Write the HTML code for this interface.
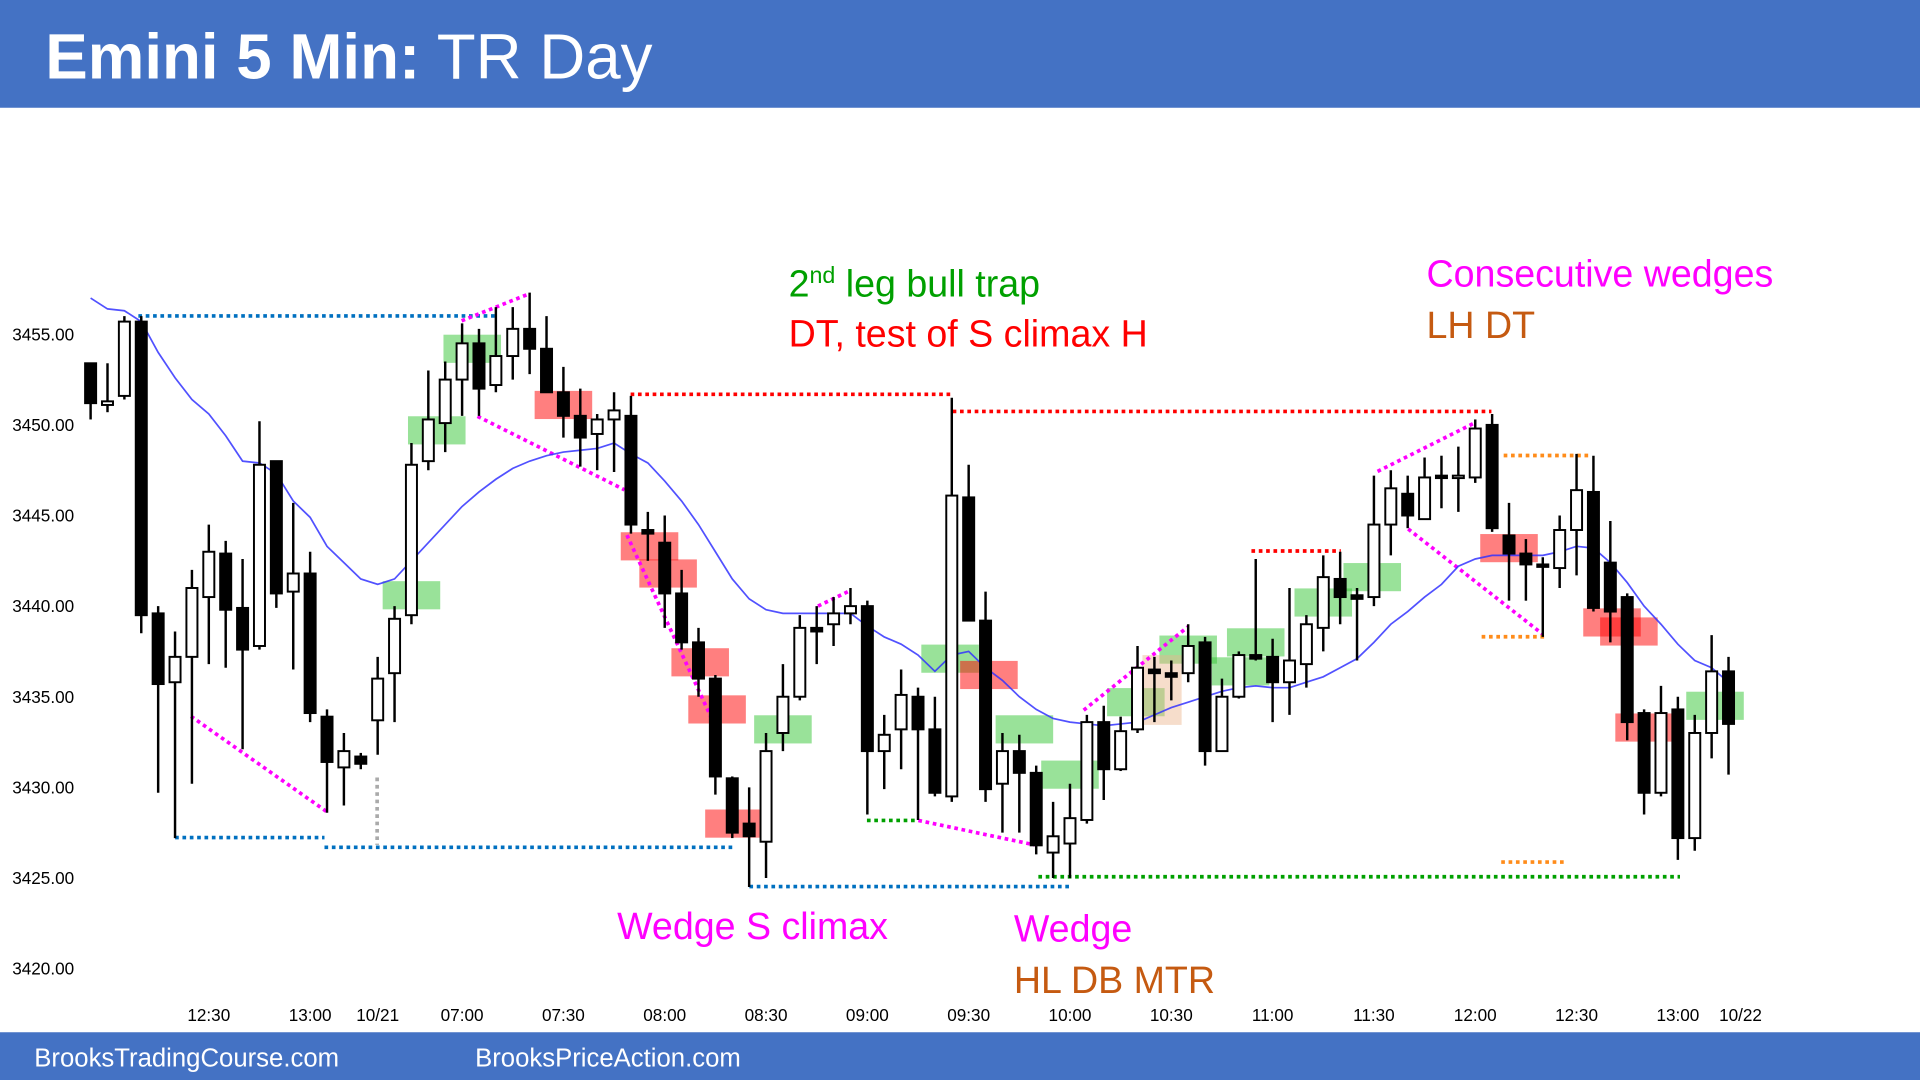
<!DOCTYPE html>
<html><head><meta charset="utf-8"><style>
html,body{margin:0;padding:0;background:#fff;overflow:hidden}
svg{display:block}
text{font-family:"Liberation Sans",sans-serif}
</style></head><body>
<svg id="chart" width="1920" height="1080" viewBox="0 0 1568 882" preserveAspectRatio="none" xmlns="http://www.w3.org/2000/svg">
<rect x="0" y="0" width="1568" height="88" fill="#4472c4"/>
<text x="37" y="64" fill="#fff" font-size="52"><tspan font-weight="bold">Emini 5 Min:</tspan> TR Day</text>
<rect x="0" y="843" width="1568" height="39" fill="#4472c4"/>
<text x="28" y="871" fill="#fff" font-size="21">BrooksTradingCourse.com</text>
<text x="388" y="871" fill="#fff" font-size="21">BrooksPriceAction.com</text>
<g id="boxes"></g><g id="lines"></g><g id="ema"></g><g id="candles"></g><g id="axes"></g>
<text x="644" y="242" fill="#00a000" font-size="30.7">2<tspan font-size="19" dy="-11">nd</tspan><tspan dy="11"> leg bull trap</tspan></text>
<text x="644" y="283" fill="#ff0000" font-size="30.7">DT, test of S climax H</text>
<text x="1165" y="234" fill="#ff00ff" font-size="30.7">Consecutive wedges</text>
<text x="1165" y="276" fill="#c55a11" font-size="30.7">LH DT</text>
<text x="504" y="767" fill="#ff00ff" font-size="30.7">Wedge S climax</text>
<text x="828" y="769" fill="#ff00ff" font-size="30.7">Wedge</text>
<text x="828" y="811" fill="#c55a11" font-size="30.7">HL DB MTR</text>
</svg>
<script>
const opens=[3453.4,3451.1,3451.6,3455.7,3439.6,3435.8,3437.2,3440.5,3442.9,3439.9,3437.8,3448.0,3440.8,3441.8,3433.9,3431.1,3431.7,3433.7,3436.3,3439.5,3448.0,3450.1,3452.5,3454.5,3452.2,3453.8,3455.3,3454.2,3451.8,3450.5,3449.5,3450.3,3450.5,3444.2,3443.5,3440.7,3438.0,3436.0,3430.5,3428.0,3427.0,3433.0,3435.0,3438.8,3439.0,3439.6,3440.0,3432.0,3433.2,3435.0,3433.2,3429.5,3446.0,3439.2,3430.2,3432.0,3430.8,3426.4,3426.9,3428.2,3433.6,3431.0,3433.2,3436.5,3436.3,3436.3,3438.0,3432.0,3435.0,3437.3,3437.2,3435.8,3436.8,3438.8,3441.5,3440.6,3440.5,3444.5,3446.2,3444.8,3447.2,3447.1,3447.1,3450.0,3443.9,3442.9,3442.3,3442.1,3444.2,3446.3,3442.4,3440.5,3434.1,3429.7,3434.3,3427.2,3433.0,3436.4];
const highs=[3453.4,3453.4,3456.0,3456.0,3440.0,3438.6,3442.0,3444.5,3443.6,3442.6,3450.2,3448.0,3445.7,3443.0,3434.3,3433.0,3431.9,3437.2,3440.0,3449.0,3453.0,3453.5,3455.6,3455.3,3456.5,3456.5,3457.3,3456.0,3453.2,3452.0,3450.6,3451.8,3451.6,3445.2,3445.0,3442.0,3438.8,3436.2,3430.6,3430.0,3433.0,3436.8,3439.5,3440.0,3440.5,3441.0,3440.3,3434.0,3436.5,3435.5,3435.0,3451.5,3447.8,3440.8,3433.0,3432.9,3431.2,3429.2,3430.2,3434.0,3434.5,3433.9,3437.8,3437.2,3437.0,3439.0,3438.3,3436.0,3437.5,3442.6,3438.2,3441.0,3439.5,3442.8,3443.0,3441.0,3447.2,3447.5,3447.2,3448.2,3448.3,3448.8,3450.3,3450.6,3445.7,3443.7,3442.7,3445.0,3448.4,3448.3,3444.7,3440.7,3434.3,3435.6,3435.0,3434.0,3438.4,3437.2];
const lows=[3450.3,3450.7,3451.4,3438.5,3429.7,3427.2,3430.2,3436.8,3436.6,3432.1,3437.6,3439.9,3436.5,3433.6,3428.6,3429.0,3431.0,3431.8,3433.6,3439.0,3447.5,3448.5,3450.5,3450.5,3451.8,3452.5,3452.8,3451.8,3449.3,3447.7,3447.5,3447.4,3444.0,3442.5,3438.8,3437.6,3435.0,3429.6,3427.2,3424.5,3425.0,3432.0,3434.8,3436.8,3437.8,3439.0,3428.5,3429.9,3431.0,3428.2,3429.5,3429.2,3441.3,3429.2,3427.5,3427.5,3426.3,3425.0,3425.0,3428.0,3429.3,3430.9,3433.0,3433.6,3434.8,3435.8,3431.2,3432.0,3434.9,3437.0,3433.6,3434.0,3435.5,3437.5,3439.0,3437.0,3440.0,3442.8,3444.3,3444.8,3445.4,3445.2,3446.8,3444.1,3440.3,3440.3,3438.3,3441.0,3441.7,3439.7,3438.0,3432.6,3428.5,3429.5,3426.0,3426.5,3431.6,3430.7];
const closes=[3451.2,3451.3,3455.7,3439.5,3435.7,3437.2,3441.0,3443.0,3439.8,3437.6,3447.8,3440.7,3441.8,3434.1,3431.4,3432.0,3431.3,3436.0,3439.3,3447.8,3450.3,3452.5,3454.5,3452.0,3453.8,3455.3,3454.2,3451.8,3450.5,3449.3,3450.3,3450.8,3444.5,3444.0,3440.7,3438.0,3436.0,3430.6,3427.5,3427.3,3432.0,3435.0,3438.8,3438.6,3439.6,3440.0,3432.0,3432.9,3435.1,3433.2,3429.7,3446.1,3439.2,3429.9,3432.0,3430.8,3426.8,3427.3,3428.3,3433.6,3431.0,3433.1,3436.6,3436.3,3436.1,3437.8,3432.0,3435.0,3437.3,3437.1,3435.8,3437.0,3439.0,3441.6,3440.5,3440.4,3444.5,3446.5,3445.0,3447.1,3447.1,3447.2,3449.8,3444.3,3442.9,3442.3,3442.2,3444.2,3446.4,3439.9,3439.7,3433.6,3429.7,3434.1,3427.2,3433.0,3436.4,3433.5];
const emaValues=[3457.0,3456.4,3456.3,3455.7,3454.0,3452.6,3451.4,3450.6,3449.4,3448.0,3447.9,3447.3,3445.8,3444.9,3443.3,3442.4,3441.5,3441.2,3441.5,3442.5,3443.5,3444.5,3445.5,3446.3,3447.0,3447.6,3448.0,3448.3,3448.5,3448.6,3448.7,3449.0,3448.4,3447.9,3446.9,3445.8,3444.5,3443.0,3441.5,3440.4,3439.8,3439.6,3439.6,3439.6,3439.6,3439.6,3438.9,3438.3,3437.9,3437.3,3436.4,3437.3,3437.5,3436.6,3435.9,3435.0,3434.3,3433.8,3433.6,3433.5,3433.4,3433.5,3433.6,3434.0,3434.4,3434.7,3435.0,3435.3,3435.5,3435.6,3435.5,3435.5,3435.8,3436.1,3436.6,3437.1,3438.0,3439.0,3439.7,3440.5,3441.2,3442.2,3442.6,3442.8,3442.8,3442.8,3442.8,3443.0,3443.3,3443.2,3442.4,3441.3,3440.0,3439.0,3437.9,3437.0,3436.6,3435.8];
const yTicks=[3455,3450,3445,3440,3435,3430,3425,3420];
const xTickLabels=["12:30","13:00","10/21","07:00","07:30","08:00","08:30","09:00","09:30","10:00","10:30","11:00","11:30","12:00","12:30","13:00","10/22"];
const xTickIndex=[7,13,17,22,28,34,40,46,52,58,64,70,76,82,88,94,98];
const boxIndex=[19,20.5,22.6,28,33.1,34.2,36.1,37.1,38.1,41,50.9,53.2,55.3,58,61.9,65,68.1,69,73,75.9,84,90.1,91.1,92,96.2];
const boxPrice=[3440.6,3449.7,3454.2,3451.1,3443.3,3441.8,3436.9,3434.3,3428.0,3433.2,3437.1,3436.2,3433.2,3430.7,3434.7,3437.6,3436.4,3438.0,3440.2,3441.6,3443.2,3439.1,3438.6,3433.3,3434.5];
const boxColor=["g","g","g","r","r","r","r","r","r","g","g","r","g","g","g","g","g","g","g","g","r","r","r","r","g"];
const NS="http://www.w3.org/2000/svg";
const X=i=>74+i*13.79;
const Y=p=>273+(3455-p)*14.8;
function mk(tag,parent,attrs){const e=document.createElementNS(NS,tag);for(const k in attrs)e.setAttribute(k,attrs[k]);document.getElementById(parent).appendChild(e);return e;}
yTicks.forEach(v=>{const t=mk('text','axes',{x:10,y:Y(v)+5,'font-size':14,fill:'#000'});


t.textContent=v.toFixed(2);});
xTickLabels.forEach((s,k)=>{const t=mk('text','axes',{x:X(xTickIndex[k])-((k==16)?4:0),y:834,'font-size':14,fill:'#000','text-anchor':'middle'});


t.textContent=s;});
boxIndex.forEach((bi,k)=>{const r=mk('rect','boxes',{x:X(bi)-23.5,y:Y(boxPrice[k])-11.5,width:47,height:23,fill:boxColor[k]=='g'?'rgba(60,200,60,0.52)':'rgba(255,0,0,0.5)'});

});
{const r=mk('rect','boxes',{x:933,y:535,width:32,height:57,fill:'rgba(235,180,140,0.45)'});

}
const segs=[[113,258,405,258,'#0070c0'],[143,684,265,684,'#0070c0'],[265,692,598,692,'#0070c0'],[612,724,874,724,'#0070c0'],
[377,262,432,240,'#ff00ff'],[390,340,510,400,'#ff00ff'],[156,585,267,663,'#ff00ff'],[515,322,778,322,'#ff0000'],[778,336,1218,336,'#ff0000'],
[512,437,585,595,'#ff00ff'],[668,495,695,482,'#ff00ff'],[750,670,845,690,'#ff00ff'],[708,670,750,670,'#00a000'],[848,716,1372,716,'#00a000'],
[885,580,970,512,'#ff00ff'],[1022,450,1095,450,'#ff0000'],[1125,385,1205,345,'#ff00ff'],[1150,432,1260,518,'#ff00ff'],
[1228,372,1300,372,'#ff8c1a'],[1210,520,1262,520,'#ff8c1a'],[1226,704,1278,704,'#ff8c1a'],[308,635,308,690,'#aaaaaa']];
segs.forEach(s=>{const l=mk('line','lines',{x1:s[0],y1:s[1],x2:s[2],y2:s[3],stroke:s[4],'stroke-width':3,'stroke-dasharray':'3 3'});

});
{const p=mk('polyline','ema',{points:emaValues.map((v,i)=>X(i)+','+Y(v)).join(' '),fill:'none',stroke:'#3333ff','stroke-width':1.4,'stroke-opacity':0.85});

}
opens.forEach((o,i)=>{const c=closes[i],x=X(i);
const g=document.createElementNS(NS,'g');document.getElementById('candles').appendChild(g);


const w=document.createElementNS(NS,'line');
w.setAttribute('x1',x);w.setAttribute('x2',x);w.setAttribute('y1',Y(highs[i]));w.setAttribute('y2',Y(lows[i]));w.setAttribute('stroke','#000');w.setAttribute('stroke-width',2);g.appendChild(w);
const top=Y(Math.max(o,c)),bot=Y(Math.min(o,c));
const r=document.createElementNS(NS,'rect');
r.setAttribute('x',x-4.5);r.setAttribute('width',9);r.setAttribute('y',top);r.setAttribute('height',Math.max(bot-top,2));
r.setAttribute('fill',c>=o?'#fff':'#000');r.setAttribute('stroke','#000');r.setAttribute('stroke-width',1.6);g.appendChild(r);});
</script>
</body></html>
